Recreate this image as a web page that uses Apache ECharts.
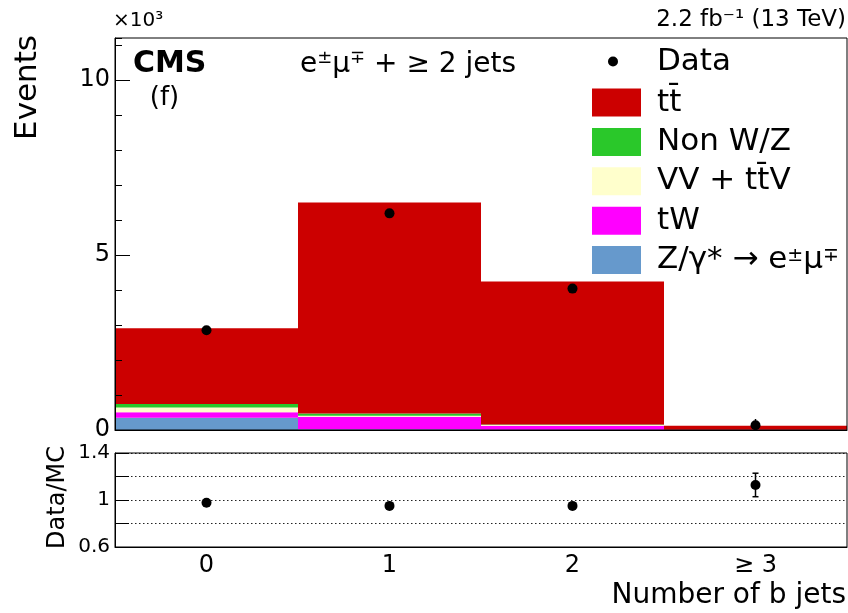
<!DOCTYPE html>
<html>
<head>
<meta charset="utf-8">
<script src="https://cdn.jsdelivr.net/npm/echarts@6/dist/echarts.min.js"></script>
<style>html,body{margin:0;padding:0;background:#fff;}#c{width:848px;height:613px;}</style>
</head>
<body>
<div id="c"></div>
<script>
// Categories (number of b jets)
const categories = ['0', '1', '2', '\u2265 3'];
// Stacked MC contributions (x10^3 events), bottom to top
const dyValues = [0.35, 0.02, 0.01, 0.0];
const tWValues = [0.155, 0.36, 0.11, 0.01];
const vvttvValues = [0.14, 0.03, 0.02, 0.0];
const nonWZValues = [0.095, 0.06, 0.02, 0.0];
const ttbarValues = [2.165, 6.03, 4.08, 0.11];
// Data (x10^3 events) and uncertainties
const dataValues = [2.85, 6.19, 4.04, 0.135];
const dataErr = [0.05, 0.08, 0.06, 0.18];
// Data/MC ratio
const ratioValues = [0.977, 0.95, 0.95, 1.128];
const ratioErr = [0.01, 0.01, 0.01, 0.1];
// Axis ticks
const mainYMax = 11.2;
const ratioYMin = 0.6, ratioYMax = 1.4;
const ratioLabels = ['0.6', '1', '1.4'];

const FONT = 'DejaVu Sans';
const names = {
  tt: 'tt\u0304',
  nonwz: 'Non W/Z',
  vv: 'VV + tt\u0304V',
  tw: 'tW',
  dy: 'Z/\u03b3* \u2192 e\u00b1\u03bc\u2213'
};
const colors = {tt: '#cc0000', nonwz: '#2ac82a', vv: '#ffffcc', tw: '#ff00ff', dy: '#6699cc'};

function barSeries(key, values) {
  return {
    name: names[key], type: 'bar', stack: 'mc', xAxisIndex: 0, yAxisIndex: 0,
    data: values, barCategoryGap: '0%', itemStyle: {color: colors[key], borderWidth: 0},
    emphasis: {disabled: true}, z: 2
  };
}

function errRender(withCap, lw) {
  return function (params, api) {
    const x = api.value(0);
    const lo = api.coord([x, api.value(1)]);
    const hi = api.coord([x, api.value(2)]);
    const children = [{type: 'line', shape: {x1: lo[0], y1: lo[1], x2: hi[0], y2: hi[1]}, style: {stroke: '#000', lineWidth: lw}}];
    if (withCap) {
      children.push({type: 'line', shape: {x1: lo[0] - 3, y1: lo[1], x2: lo[0] + 3, y2: lo[1]}, style: {stroke: '#000', lineWidth: lw}});
      children.push({type: 'line', shape: {x1: hi[0] - 3, y1: hi[1], x2: hi[0] + 3, y2: hi[1]}, style: {stroke: '#000', lineWidth: lw}});
    }
    return {type: 'group', children: children};
  };
}

const chart = echarts.init(document.getElementById('c'), null, {renderer: 'canvas'});
const axisCol = '#000';
const option = {
  animation: false,
  backgroundColor: '#fff',
  textStyle: {fontFamily: FONT, color: '#000'},
  grid: [
    {left: 115, top: 38, width: 732, height: 392, show: true, borderColor: axisCol, borderWidth: 1, z: 3},
    {left: 115, top: 453, width: 732, height: 94, show: true, borderColor: axisCol, borderWidth: 1, z: 3}
  ],
  xAxis: [
    {type: 'category', gridIndex: 0, data: categories, boundaryGap: true, position: 'bottom',
     axisLine: {lineStyle: {color: axisCol, width: 1}},
     axisTick: {inside: true, length: 11, alignWithLabel: true, interval: 0, lineStyle: {color: axisCol}},
     axisLabel: {show: false}, splitLine: {show: false}, z: 4},
    {type: 'category', gridIndex: 1, data: categories, boundaryGap: true, position: 'bottom',
     axisLine: {lineStyle: {color: axisCol, width: 1}},
     axisTick: {inside: true, length: 8, alignWithLabel: true, interval: 0, lineStyle: {color: axisCol}},
     axisLabel: {show: true, interval: 0, fontSize: 24, color: '#000', margin: 7, fontFamily: FONT},
     splitLine: {show: false}}
  ],
  yAxis: [
    {type: 'value', gridIndex: 0, position: 'left', offset: 0, min: 0, max: mainYMax, interval: 5,
     axisLine: {show: true, lineStyle: {color: axisCol}},
     axisTick: {show: true, inside: true, length: 15, lineStyle: {color: axisCol}},
     axisLabel: {fontSize: 24, color: '#000', margin: 5, fontFamily: FONT, showMaxLabel: false,
       formatter: v => (Math.abs(v % 5) < 1e-9 ? String(v) : '')},
     splitLine: {show: false}, z: 4},
    {type: 'value', gridIndex: 0, position: 'left', offset: 0, min: 0, max: mainYMax, interval: 1,
     axisLine: {show: false},
     axisTick: {show: true, inside: true, length: 7, lineStyle: {color: axisCol}},
     axisLabel: {show: false}, splitLine: {show: false}, z: 4},
    {type: 'value', gridIndex: 1, position: 'left', min: ratioYMin, max: ratioYMax, interval: 0.2,
     axisLine: {show: true, lineStyle: {color: axisCol}},
     axisTick: {show: true, inside: true, length: 14, lineStyle: {color: axisCol}},
     axisLabel: {fontSize: 20, color: '#000', margin: 5, fontFamily: FONT,
       formatter: v => {
         const s = String(Math.round(v * 10) / 10);
         return ratioLabels.indexOf(s) >= 0 ? s : '';
       }},
     splitLine: {show: true, lineStyle: {color: '#222', width: 1, type: [1.5, 2.5]}}}
  ],
  legend: [
    {data: ['Data'], left: 603, top: 41, orient: 'vertical', icon: 'circle', itemWidth: 10, itemHeight: 10,
     selectedMode: false, textStyle: {fontSize: 31, lineHeight: 31, color: '#000', fontFamily: FONT, padding: [0, 0, 0, 34]}},
    {data: [names.tt, names.nonwz, names.vv, names.tw, names.dy], left: 587, top: 82, orient: 'vertical',
     icon: 'rect', itemWidth: 49, itemHeight: 28, itemGap: 8.4, selectedMode: false,
     formatter: function (n) {
       if (n === names.dy) return '{a|Z/\u03b3* \u2192 e}{s|\u00b1}{a|\u03bc}{s|\u2213}';
       return '{a|' + n + '}';
     },
     textStyle: {fontSize: 31, lineHeight: 28, color: '#000', fontFamily: FONT, padding: [0, 0, 0, 11],
       rich: {a: {fontSize: 31, lineHeight: 28, fontFamily: FONT, color: '#000'},
              s: {fontSize: 19, lineHeight: 19, verticalAlign: 'top', fontFamily: FONT, color: '#000'}}}}
  ],
  series: [
    barSeries('dy', dyValues),
    barSeries('tw', tWValues),
    barSeries('vv', vvttvValues),
    barSeries('nonwz', nonWZValues),
    barSeries('tt', ttbarValues),
    {name: 'Data', type: 'scatter', xAxisIndex: 0, yAxisIndex: 0, data: dataValues,
     symbol: 'circle', symbolSize: 10, itemStyle: {color: '#000', opacity: 1}, z: 6},
    {type: 'custom', xAxisIndex: 0, yAxisIndex: 0, renderItem: errRender(false, 1.5),
     data: dataValues.map((v, i) => [i, Math.max(0, v - dataErr[i]), v + dataErr[i]]),
     encode: {x: 0, y: [1, 2]}, z: 6},
    {type: 'scatter', xAxisIndex: 1, yAxisIndex: 2, data: ratioValues,
     symbol: 'circle', symbolSize: 10, itemStyle: {color: '#000', opacity: 1}, z: 6},
    {type: 'custom', xAxisIndex: 1, yAxisIndex: 2, renderItem: errRender(true, 1.5),
     data: ratioValues.map((v, i) => [i, v - ratioErr[i], v + ratioErr[i]]),
     encode: {x: 0, y: [1, 2]}, z: 6}
  ],
  graphic: [
    {type: 'text', x: 113, y: 21, style: {text: '\u00d710\u00b3', fontSize: 20, fontFamily: FONT, fill: '#000', align: 'left', verticalAlign: 'middle'}},
    {type: 'text', x: 846, y: 20, style: {text: '2.2 fb\u207b\u00b9 (13 TeV)', fontSize: 23, fontFamily: FONT, fill: '#000', align: 'right', verticalAlign: 'middle'}},
    {type: 'text', x: 133, y: 64, style: {text: 'CMS', fontSize: 30, fontWeight: 'bold', fontFamily: FONT, fill: '#000', align: 'left', verticalAlign: 'middle'}},
    {type: 'text', x: 164.5, y: 98, style: {text: '(f)', fontSize: 26, fontFamily: FONT, fill: '#000', align: 'center', verticalAlign: 'middle'}},
    {type: 'text', x: 300, y: 65, style: {
      text: '{n|e}{s|\u00b1}{n|\u03bc}{s|\u2213}{n| + \u2265 2 jets}', fontFamily: FONT, fill: '#000', align: 'left', verticalAlign: 'middle',
      rich: {n: {fontSize: 28, lineHeight: 32, fontFamily: FONT, fill: '#000'},
             s: {fontSize: 18, lineHeight: 18, verticalAlign: 'top', fontFamily: FONT, fill: '#000'}}}},
    {type: 'text', x: 28, y: 35, rotation: Math.PI / 2, style: {text: 'Events', fontSize: 31, fontFamily: FONT, fill: '#000', align: 'right', verticalAlign: 'middle'}},
    {type: 'text', x: 58, y: 497.5, rotation: Math.PI / 2, style: {text: 'Data/MC', fontSize: 24, fontFamily: FONT, fill: '#000', align: 'center', verticalAlign: 'middle'}},
    {type: 'text', x: 846, y: 596, style: {text: 'Number of b jets', fontSize: 28, fontFamily: FONT, fill: '#000', align: 'right', verticalAlign: 'middle'}}
  ]
};
chart.setOption(option);
</script>
</body>
</html>
